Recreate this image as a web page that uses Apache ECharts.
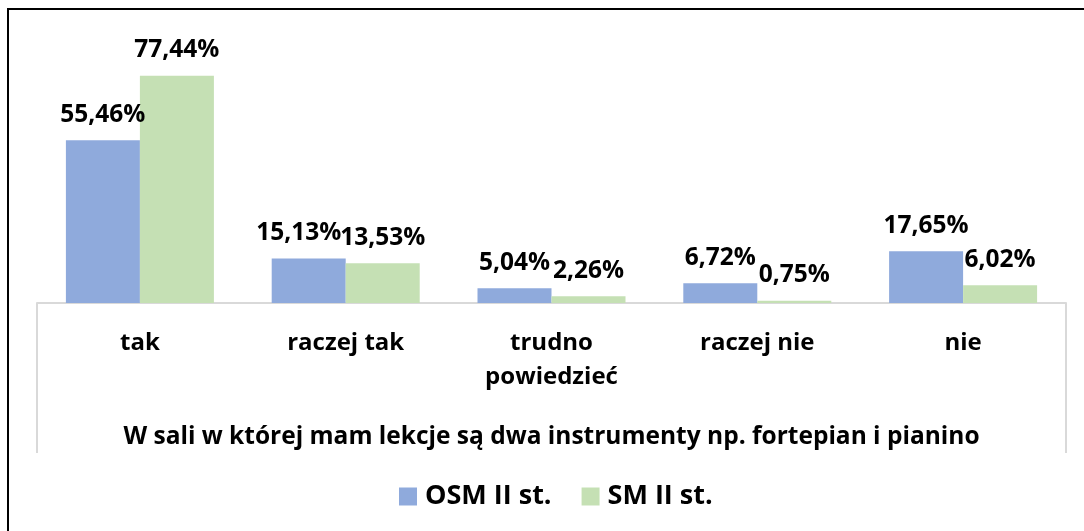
<!DOCTYPE html>
<html>
<head>
<meta charset="utf-8">
<script src="https://cdn.jsdelivr.net/npm/echarts@6/dist/echarts.min.js"></script>
<style>
  html, body { margin: 0; padding: 0; background: #fff; overflow: hidden; }
  #main { position: absolute; left: 0; top: 0; width: 1084px; height: 531px; }
  #frame { position: absolute; left: 7px; top: 8px; width: 1200px; height: 700px;
           border-left: 2px solid #000; border-top: 2px solid #000; pointer-events: none; }
</style>
</head>
<body>
<div id="main"></div>
<div id="frame"></div>
<script>
var categories = ['tak', 'raczej tak', 'trudno\npowiedzieć', 'raczej nie', 'nie'];
var osmValues = [55.46, 15.13, 5.04, 6.72, 17.65];
var smValues = [77.44, 13.53, 2.26, 0.75, 6.02];
var seriesNames = ['OSM II st.', 'SM II st.'];
var axisTitle = 'W sali w której mam lekcje są dwa instrumenty np. fortepian i pianino';

var myChart = echarts.init(document.getElementById('main'));

var fontFamily = '"Open Sans", sans-serif';

function pct(v) {
	return v.toFixed(2).replace('.', ',') + '%';
}

var labelStyle = {
	show: true,
	position: 'top',
	distance: 13,
	fontFamily: fontFamily,
	fontWeight: 'bold',
	fontSize: 24.5,
	color: '#000',
	formatter: function (p) { return pct(p.value); }
};

// blue label of "raczej tak" sits a bit to the left in the original
var osmData = osmValues.map(function (v, i) {
	if (i === 1) {
		return { value: v, label: { offset: [-10, 0] } };
	}
	return v;
});

option = {
	animation: false,
	backgroundColor: '#fff',
	grid: {
		left: 37,
		right: 18,
		top: 39,
		bottom: 228
	},
	legend: {
		data: seriesNames,
		top: 478,
		left: 394,
		itemWidth: 18,
		itemHeight: 18,
		itemGap: 30,
		icon: 'rect',
		textStyle: {
			fontFamily: fontFamily,
			fontWeight: 'bold',
			fontSize: 27,
			color: '#000',
			padding: [0, 0, 0, 3]
		}
	},
	xAxis: {
		type: 'category',
		data: categories,
		axisLine: { lineStyle: { color: '#d9d9d9', width: 2 } },
		axisTick: {
			show: true,
			length: 150,
			interval: function (i) { return i === 0; },
			lineStyle: { color: '#d9d9d9', width: 2 }
		},
		axisLabel: {
			interval: 0,
			margin: 23,
			fontFamily: fontFamily,
			fontWeight: 'bold',
			fontSize: 24,
			lineHeight: 34,
			color: '#000'
		},
		name: axisTitle,
		nameLocation: 'middle',
		nameGap: 122,
		nameTextStyle: {
			fontFamily: fontFamily,
			fontWeight: 'bold',
			fontSize: 24.5,
			color: '#000'
		}
	},
	yAxis: {
		type: 'value',
		min: 0,
		max: 90,
		show: false,
		splitLine: { show: false }
	},
	series: [
		{
			name: seriesNames[0],
			type: 'bar',
			barWidth: 74,
			barGap: '0%',
			itemStyle: { color: '#8faadc' },
			label: labelStyle,
			data: osmData
		},
		{
			name: seriesNames[1],
			type: 'bar',
			barWidth: 74,
			barGap: '0%',
			itemStyle: { color: '#c5e0b4' },
			label: labelStyle,
			data: smValues
		}
	]
};

myChart.setOption(option);
</script>
</body>
</html>
